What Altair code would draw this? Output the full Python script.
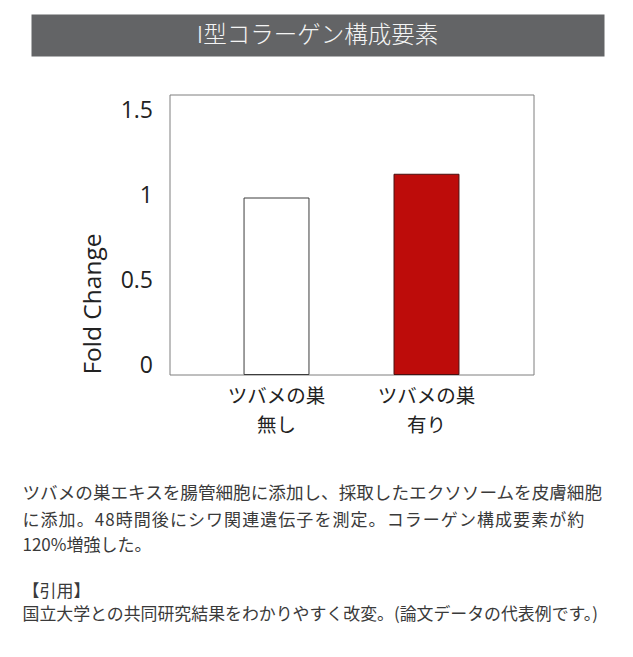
import altair as alt
import pandas as pd

# ---- data ----
categories = ["ツバメの巣 無し", "ツバメの巣 有り"]
fold_change = [1.04, 1.18]
bar_fills = ["#ffffff", "#bd0c0a"]
bar_strokes = ["#3c3c3c", "#4a1010"]
y_ticks = [0, 0.5, 1, 1.5]

title_text = "I型コラーゲン構成要素"
body_lines = [
    "ツバメの巣エキスを腸管細胞に添加し、採取したエクソソームを皮膚細胞",
    "に添加。48時間後にシワ関連遺伝子を測定。コラーゲン構成要素が約",
    "120%増強した。",
    "【引用】",
    "国立大学との共同研究結果をわかりやすく改変。(論文データの代表例です。)",
]

df = pd.DataFrame({"group": categories, "value": fold_change})

JP = "Noto Sans CJK JP"
x_scale = alt.Scale(domain=categories, paddingInner=0.567, paddingOuter=0.497)

bars = alt.Chart(df).mark_bar(strokeWidth=1).encode(
    x=alt.X(
        "group:N",
        sort=categories,
        scale=x_scale,
        axis=alt.Axis(
            title=None,
            labelExpr="split(datum.label, ' ')[0]",
            labelAngle=0,
            labelFont=JP,
            labelFontSize=19.5,
            labelColor="#222222",
            labelPadding=13,
            labelBaseline="top",
            domain=False,
            ticks=False,
        ),
    ),
    y=alt.Y(
        "value:Q",
        scale=alt.Scale(domain=[0, 1.65], nice=False, zero=True),
        axis=alt.Axis(
            values=y_ticks,
            format="~g",
            title="Fold Change",
            labelFont="Open Sans",
            labelFontSize=23,
            labelColor="#222222",
            labelPadding=17,
            labelOffset=-9,
            titleFont="Open Sans",
            titleFontSize=24.5,
            titleFontWeight="normal",
            titleColor="#222222",
            titleX=-69,
            titleY=209,
            titleAlign="center",
            titleBaseline="alphabetic",
            domain=False,
            ticks=False,
            grid=False,
        ),
    ),
    fill=alt.Fill("group:N", scale=alt.Scale(domain=categories, range=bar_fills), legend=None),
    stroke=alt.Stroke("group:N", scale=alt.Scale(domain=categories, range=bar_strokes), legend=None),
)

# second line of each category label, placed under the first via the same band scale
sub_labels = alt.Chart(df).transform_calculate(
    sub="split(datum.group, ' ')[1]"
).mark_text(
    font=JP, fontSize=19.5, color="#222222", align="center", baseline="middle"
).encode(
    x=alt.X("group:N", sort=categories, scale=x_scale),
    text="sub:N",
    y=alt.value(331),
)

one = pd.DataFrame({"k": [0]})

title_bg = alt.Chart(one).mark_rect(color="#636466").encode(
    x=alt.value(-138), x2=alt.value(435), y=alt.value(-80), y2=alt.value(-38)
)
title_txt = alt.Chart(pd.DataFrame({"t": [title_text]})).mark_text(
    font=JP, fontSize=23.5, fontWeight=300, color="#f4f4f4", align="center", baseline="middle"
).encode(text="t:N", x=alt.value(148), y=alt.value(-59))

HAIR = "\u200a"
line_y = [399, 426, 451, 497, 520]
line_size = [17.6, 17, 17, 17, 16.9]
line_gap = [False, True, False, False, False]
body_layers = []
for txt, yy, fs, gap in zip(body_lines, line_y, line_size, line_gap):
    shown = HAIR.join(list(txt)) if gap else txt
    body_layers.append(
        alt.Chart(pd.DataFrame({"t": [shown]})).mark_text(
            font=JP, fontSize=fs, color="#3a3a3a", align="left", baseline="middle"
        ).encode(text="t:N", x=alt.value(-147), y=alt.value(yy))
    )

chart = alt.layer(bars, sub_labels, title_bg, title_txt, *body_layers).properties(
    width=364,
    height=280,
    autosize=alt.AutoSizeParams(type="none"),
    padding={"left": 161.5, "top": 86.5, "right": 91.5, "bottom": 264.5},
).configure(
    background="white",
    view=alt.ViewConfig(stroke="#7f7f7f", strokeWidth=1),
)

chart.save("out.html", embed_options={"renderer": "svg", "actions": False})
